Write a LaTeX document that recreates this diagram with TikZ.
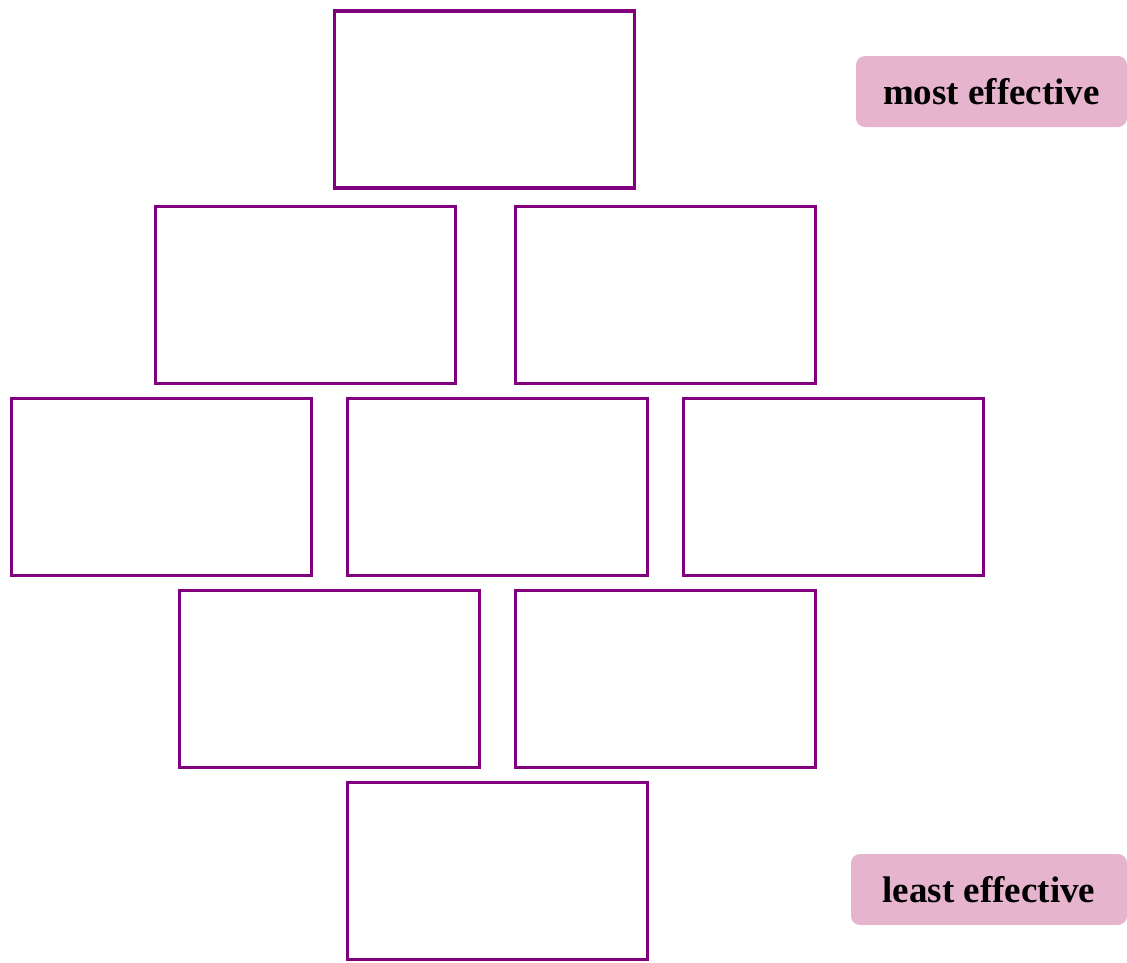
\documentclass[tikz,border=0pt]{standalone}
\usepackage{fontspec}
\setmainfont{Liberation Serif}
\definecolor{boxpurple}{HTML}{800080}
\definecolor{tagpink}{HTML}{E6B4CC}
\begin{document}
\begin{tikzpicture}[x=1pt,y=-1pt,
  slot/.style={draw=boxpurple,line width=3.5pt,fill=white,minimum width=300pt,minimum height=177pt,inner sep=0pt},
  tag/.style={fill=tagpink,rounded corners=9pt,inner sep=0pt,font=\fontsize{37}{40}\selectfont\bfseries,text=black,minimum height=71pt}]
\useasboundingbox (0,0) rectangle (1127,962);
\node[slot] (r1) at (484.5,99.5) {};
\node[slot] (r2a) at (305.5,295) {};
\node[slot] (r2b) at (665.5,295) {};
\node[slot] (r3a) at (161.5,487) {};
\node[slot] (r3b) at (497.5,487) {};
\node[slot] (r3c) at (833.5,487) {};
\node[slot] (r4a) at (329.5,679) {};
\node[slot] (r4b) at (665.5,679) {};
\node[slot] (r5) at (497.5,871) {};
\node[tag,minimum width=271pt] (most) at (991.5,91.5) {most effective};
\node[tag,minimum width=276pt] (least) at (989,889.5) {least effective};
\end{tikzpicture}
\end{document}
